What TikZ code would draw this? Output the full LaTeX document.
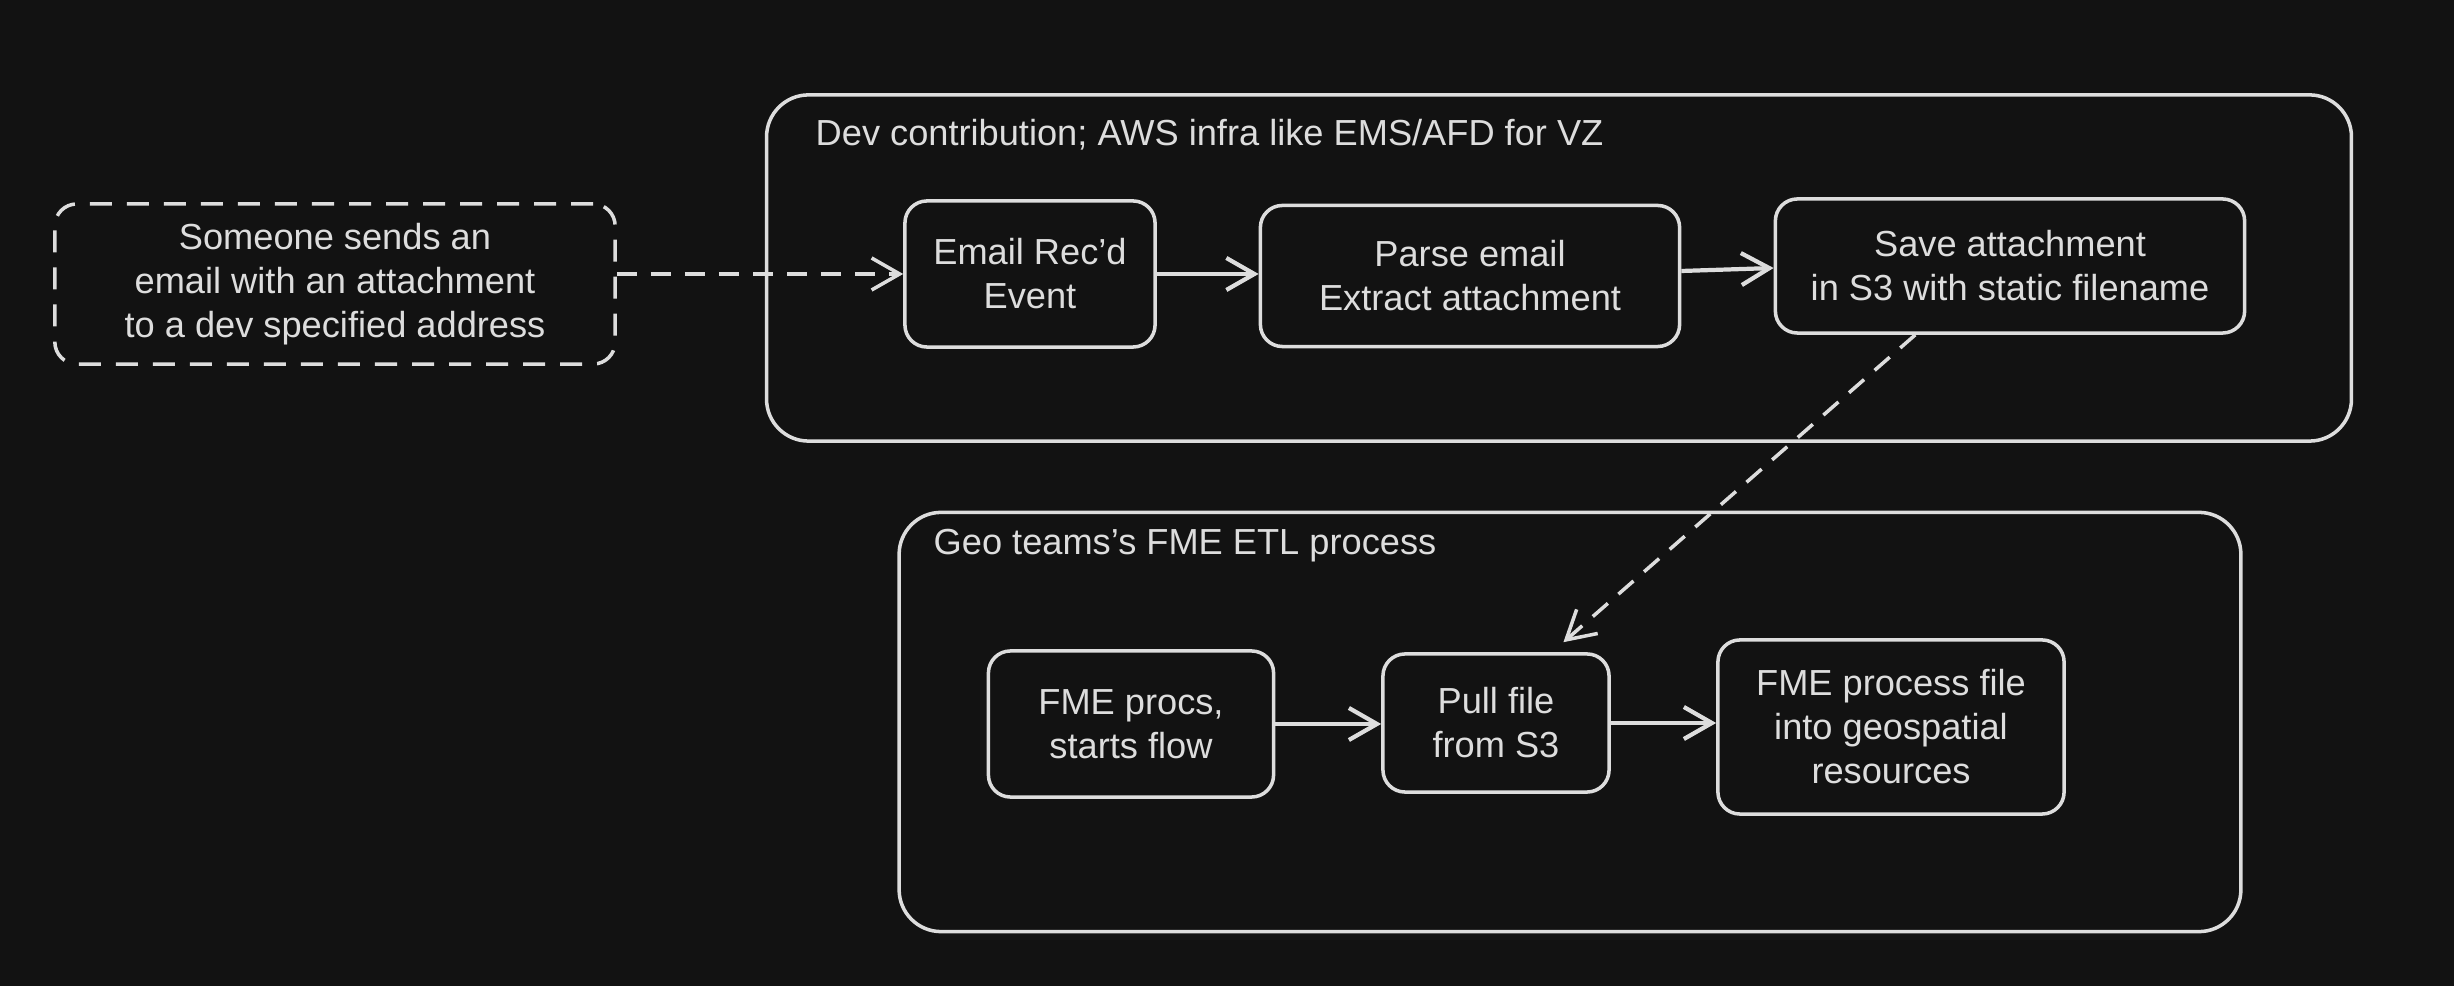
\documentclass[tikz,border=0pt]{standalone}
\usepackage{fontspec}
\setmainfont{Liberation Sans}
\usetikzlibrary{arrows.meta}
\definecolor{bgdark}{HTML}{121212}
\definecolor{ink}{HTML}{DDDDDD}

\begin{document}
\begin{tikzpicture}[x=0.01cm,y=-0.01cm,
    box/.style={draw=ink,line width=1pt,rounded corners=0.22cm,align=center,
      text=ink,inner sep=0pt,font=\fontsize{10.3}{12.5}\selectfont},
    group/.style={draw=ink,line width=1pt,rounded corners=0.42cm,inner sep=0pt},
    grouptitle/.style={text=ink,anchor=west,inner sep=0pt,font=\fontsize{10.3}{12}\selectfont},
    flow/.style={draw=ink,line width=1.2pt,-{Straight Barb[length=0.28cm,width=0.32cm]}},
    dashflow/.style={flow,line width=1pt,dash pattern=on 0.2cm off 0.14cm}]
  \fill[bgdark] (0,0) rectangle (2454,986) ;
  \useasboundingbox (0,0) rectangle (2454,986) ;
  % groups
  \node[group,minimum width=15.84cm,minimum height=3.46cm] (devgroup) at (1559,268) {} ;
  \node[grouptitle] (devtitle) at (815,135) {Dev contribution; AWS infra like EMS/AFD for VZ} ;
  \node[group,minimum width=13.41cm,minimum height=4.19cm] (geogroup) at (1570,722) {} ;
  \node[grouptitle] (geotitle) at (933,546) {Geo teams's FME ETL process} ;
  % steps
  \node[box,dash pattern=on 0.22cm off 0.15cm,minimum width=5.6cm,minimum height=1.6cm] %
    (sender) at (335,284) {Someone sends an\\email with an attachment\\to a dev specified address} ;
  \node[box,minimum width=2.5cm,minimum height=1.46cm] (email) at (1030,274) {Email Rec'd\\Event} ;
  \node[box,minimum width=4.19cm,minimum height=1.41cm] (parse) at (1470,276) {Parse email\\Extract attachment} ;
  \node[box,minimum width=4.69cm,minimum height=1.34cm] (save) at (2010,266) {Save attachment\\in S3 with static filename} ;
  \node[box,minimum width=2.85cm,minimum height=1.46cm] (procs) at (1131,724) {FME procs,\\starts flow} ;
  \node[box,minimum width=2.26cm,minimum height=1.38cm] (pull) at (1496,723) {Pull file\\from S3} ;
  \node[box,minimum width=3.46cm,minimum height=1.74cm] (fmefile) at (1891,727) {FME process file\\into geospatial\\resources} ;
  % arrows
  \draw[dashflow] (sender.east |- email.west) -- (email.west) ;
  \draw[flow] (email.east) -- (email.east -| parse.west) ;
  \draw[flow] ([shift={(0,-5)}]parse.east) -- ([shift={(0,2)}]save.west) ;
  \draw[dashflow] (save.216) -- ([shift={(8,-10)}]pull.50) ;
  \draw[flow] (procs.east) -- (procs.east -| pull.west) ;
  \draw[flow] (pull.east) -- (pull.east -| fmefile.west) ;
\end{tikzpicture}
\end{document}
